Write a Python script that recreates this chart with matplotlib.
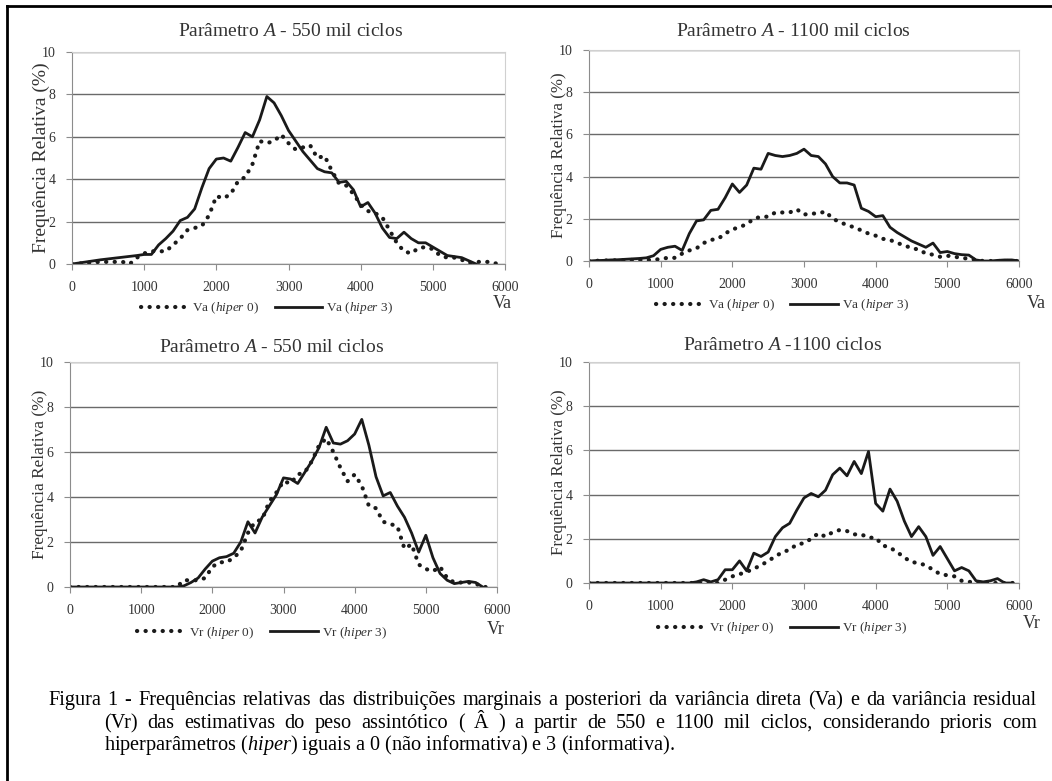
import numpy as np
import matplotlib
matplotlib.use('Agg')
import matplotlib.pyplot as plt
from matplotlib.lines import Line2D

plt.rcParams['font.family'] = ['Liberation Serif', 'DejaVu Serif']
plt.rcParams['mathtext.fontset'] = 'custom'
plt.rcParams['mathtext.rm'] = 'Liberation Serif'
plt.rcParams['mathtext.it'] = 'Liberation Serif:italic'

nan = np.nan

# classes (0 .. 6000, passo 100)
x_vals = list(range(0, 6001, 100))

# Va, 550 mil ciclos
va550_h0 = [0.00, 0.02, 0.05, 0.08, 0.10, 0.10, 0.10, 0.10, 0.00, 0.30,
            0.50, 0.60, 0.60, 0.60, 0.90, 1.20, 1.60, 1.70, 1.80, 2.30,
            3.20, 3.10, 3.30, 3.90, 4.10, 4.70, 5.80, 5.70, 5.80, 6.10,
            5.70, 5.40, 5.50, 5.60, 5.00, 5.10, 4.40, 3.80, 3.70, 3.30,
            2.80, 2.50, 2.40, 2.20, 1.60, 1.00, 0.60, 0.50, 0.75, 0.80,
            0.70, 0.40, 0.30, 0.30, 0.20, 0.05, 0.10, 0.10, 0.10, 0.00, nan]
va550_h3 = [0.00, 0.05, 0.10, 0.15, 0.20, 0.24, 0.28, 0.32, 0.36, 0.40,
            0.45, 0.45, 0.90, 1.20, 1.55, 2.05, 2.20, 2.60, 3.60, 4.50,
            4.95, 5.00, 4.85, 5.50, 6.20, 6.00, 6.80, 7.90, 7.60, 7.00,
            6.30, 5.80, 5.30, 4.90, 4.50, 4.35, 4.30, 3.85, 3.90, 3.50,
            2.70, 2.90, 2.40, 1.70, 1.25, 1.20, 1.50, 1.20, 1.00, 1.00,
            0.80, 0.60, 0.40, 0.35, 0.30, 0.15, 0.00, nan, nan, nan, nan]

# Va, 1100 mil ciclos
va1100_h0 = [0.00, 0.01, 0.02, 0.03, 0.03, 0.04, 0.05, 0.05, 0.05, 0.05,
             0.10, 0.15, 0.15, 0.35, 0.50, 0.60, 0.85, 1.00, 1.05, 1.30,
             1.50, 1.60, 1.75, 2.00, 2.10, 2.10, 2.30, 2.30, 2.30, 2.45,
             2.20, 2.25, 2.25, 2.35, 2.00, 1.85, 1.70, 1.60, 1.45, 1.30,
             1.20, 1.05, 1.00, 0.85, 0.75, 0.60, 0.55, 0.35, 0.30, 0.20,
             0.25, 0.20, 0.15, 0.10, 0.05, 0.00, 0.00, 0.00, 0.00, 0.00, 0.00]
va1100_h3 = [0.00, 0.02, 0.03, 0.05, 0.06, 0.08, 0.10, 0.12, 0.15, 0.25,
             0.55, 0.65, 0.70, 0.50, 1.30, 1.90, 1.95, 2.40, 2.45, 3.00,
             3.65, 3.25, 3.60, 4.40, 4.35, 5.10, 5.00, 4.95, 5.00, 5.10,
             5.30, 5.00, 4.95, 4.60, 4.00, 3.70, 3.70, 3.60, 2.50, 2.35,
             2.10, 2.15, 1.60, 1.35, 1.15, 0.95, 0.80, 0.65, 0.85, 0.40,
             0.45, 0.35, 0.30, 0.28, 0.05, 0.00, 0.00, 0.03, 0.05, 0.05, 0.00]

# Vr, 550 mil ciclos
vr550_h0 = [0.00, 0.00, 0.00, 0.00, 0.00, 0.00, 0.00, 0.00, 0.00, 0.00,
            0.00, 0.00, 0.00, 0.00, 0.00, 0.00, 0.30, 0.30, 0.30, 0.40,
            0.90, 1.10, 1.10, 1.30, 1.60, 2.40, 2.90, 3.00, 3.80, 4.20,
            4.70, 4.60, 5.00, 5.10, 5.60, 6.30, 6.60, 6.00, 5.30, 4.70,
            5.00, 4.50, 3.60, 3.50, 2.90, 2.80, 2.70, 1.70, 1.90, 1.00,
            0.80, 0.70, 0.90, 0.40, 0.20, 0.20, 0.20, 0.15, 0.00, 0.00, nan]
vr550_h3 = [0.00, 0.00, 0.00, 0.00, 0.00, 0.00, 0.00, 0.00, 0.00, 0.00,
            0.00, 0.00, 0.00, 0.00, 0.00, 0.00, 0.05, 0.20, 0.40, 0.80,
            1.15, 1.30, 1.35, 1.50, 2.00, 2.90, 2.40, 3.10, 3.60, 4.10,
            4.85, 4.80, 4.60, 5.10, 5.60, 6.20, 7.10, 6.40, 6.35, 6.50,
            6.80, 7.45, 6.30, 4.90, 4.05, 4.20, 3.60, 3.10, 2.40, 1.55,
            2.30, 1.30, 0.60, 0.30, 0.15, 0.20, 0.25, 0.20, 0.00, nan, nan]

# Vr, 1100 mil ciclos
vr1100_h0 = [0.00, 0.00, 0.00, 0.00, 0.00, 0.00, 0.00, 0.00, 0.00, 0.00,
             0.00, 0.00, 0.00, 0.00, 0.00, 0.00, 0.00, 0.00, 0.00, 0.15,
             0.30, 0.40, 0.50, 0.65, 0.80, 1.00, 1.20, 1.40, 1.50, 1.75,
             1.80, 2.00, 2.25, 2.10, 2.30, 2.40, 2.35, 2.20, 2.20, 2.05,
             2.05, 1.70, 1.60, 1.40, 1.15, 0.95, 0.90, 0.80, 0.60, 0.40,
             0.35, 0.30, 0.10, 0.05, 0.05, 0.00, 0.00, 0.00, 0.00, 0.00, 0.00]
vr1100_h3 = [0.00, 0.00, 0.00, 0.00, 0.00, 0.00, 0.00, 0.00, 0.00, 0.00,
             0.00, 0.00, 0.00, 0.00, 0.00, 0.05, 0.15, 0.05, 0.15, 0.60,
             0.60, 1.00, 0.55, 1.35, 1.20, 1.40, 2.10, 2.50, 2.70, 3.30,
             3.85, 4.05, 3.90, 4.20, 4.90, 5.20, 4.85, 5.50, 4.95, 5.95,
             3.60, 3.25, 4.25, 3.70, 2.80, 2.10, 2.55, 2.10, 1.25, 1.65,
             1.10, 0.55, 0.70, 0.55, 0.10, 0.05, 0.10, 0.20, 0.00, 0.00, nan]

W, H = 1052, 781

# (caixa em px, titulo, pos. titulo, h0, h3, variavel, pos. variavel, tam. rotulo y)
panels = [
    ([72, 52, 505, 264], 'Parâmetro $\\it{A}$ - 550 mil ciclos', (291, 31),
     va550_h0, va550_h3, 'Va', (493, 303), 14),
    ([589, 50, 1019, 261], 'Parâmetro $\\it{A}$ - 1100 mil ciclos', (793, 31),
     va1100_h0, va1100_h3, 'Va', (1027, 303), 12.2),
    ([70, 362, 497, 587], 'Parâmetro $\\it{A}$ - 550 mil ciclos', (272, 347),
     vr550_h0, vr550_h3, 'Vr', (487, 630), 12.4),
    ([589, 362, 1019, 583], 'Parâmetro $\\it{A}$ -1100 ciclos', (783, 346),
     vr1100_h0, vr1100_h3, 'Vr', (1023, 623), 12.2),
]

fig = plt.figure(figsize=(W / 100, H / 100), dpi=100)

for (x0, y0, x1, y1), title, tpos, s0, s3, var, vpos, ylsize in panels:
    ax = fig.add_axes([x0 / W, 1 - y1 / H, (x1 - x0) / W, (y1 - y0) / H])
    ax.plot(x_vals, s0, color='#1a1a1a', lw=3.0, linestyle=(0, (0.05, 2.0)),
            dash_capstyle='round', label=var + ' ($\\it{hiper}$ 0)')
    ax.plot(x_vals, s3, color='#1a1a1a', lw=2.0, label=var + ' ($\\it{hiper}$ 3)')
    ax.set_xlim(0, 6000)
    ax.set_ylim(0, 10)
    ax.set_xticks(range(0, 6001, 1000))
    ax.set_yticks(range(0, 11, 2))
    ax.yaxis.grid(True, color='#6a6a6a', lw=1.0)
    ax.set_axisbelow(True)
    for sp in ['top', 'right']:
        ax.spines[sp].set_color('#d0d0d0')
    for sp in ['left', 'bottom']:
        ax.spines[sp].set_color('#8c8c8c')
    ax.tick_params(colors='#8c8c8c', labelcolor='#333333', labelsize=10,
                   length=4, pad=8)
    ax.set_ylabel('Frequência Relativa (%)', fontsize=ylsize, color='#333333')
    ax.yaxis.set_label_coords(-22 / (x1 - x0), 0.5)
    fig.text(tpos[0] / W, 1 - tpos[1] / H, title, fontsize=14, color='#333333',
             ha='center', va='center')
    fig.text(vpos[0] / W, 1 - vpos[1] / H, var, fontsize=13, color='#333333',
             ha='left', va='center')
    ax.legend(loc='upper center', bbox_to_anchor=(0.45, -0.115), ncol=2,
              frameon=False, fontsize=9.5, handlelength=3.6, columnspacing=1.2,
              handletextpad=0.3, labelcolor='#333333')

# moldura externa
fig.add_artist(Line2D([7 / W, 7 / W], [0, 1 - 6 / H], color='black', lw=2))
fig.add_artist(Line2D([7 / W, 1], [1 - 6 / H, 1 - 6 / H], color='black', lw=2))

cap1 = ('Figura 1 - Frequências relativas das distribuições marginais a posteriori '
        'da variância direta (Va) e da variância residual')
cap2 = ('(Vr) das estimativas do peso assintótico ( Â ) a partir de 550 e 1100 mil '
        'ciclos, considerando prioris com')
cap3 = 'hiperparâmetros ($\\it{hiper}$) iguais a 0 (não informativa) e 3 (informativa).'

renderer = fig.canvas.get_renderer()


def justified(text, x_left, x_right, y, size):
    # palavras espalhadas entre x_left e x_right (px)
    words = text.split(' ')
    arts = [fig.text(0, 1 - y / H, w, fontsize=size, ha='left', va='baseline')
            for w in words]
    widths = [a.get_window_extent(renderer).width for a in arts]
    gap = (x_right - x_left - sum(widths)) / (len(words) - 1)
    xx = x_left
    for a, w in zip(arts, widths):
        a.set_x(xx / W)
        xx += w + gap


justified(cap1, 48, 1037, 705, 14.6)
justified(cap2, 104, 1037, 728, 14.6)
fig.text(104 / W, 1 - 750 / H, cap3, fontsize=14.6, ha='left', va='baseline')

fig.savefig('out.png', dpi=100, facecolor='white')
